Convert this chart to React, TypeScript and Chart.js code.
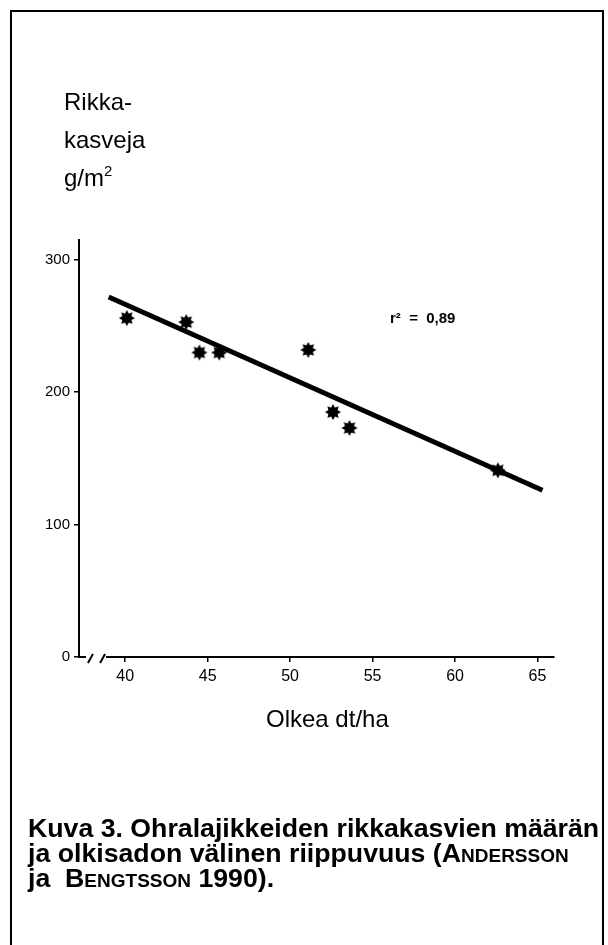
import React, { useEffect, useRef } from "react";
import { Chart, registerables } from "chart.js";

Chart.register(...registerables);

// ---- data ----
const strawYield = [40.1, 43.7, 44.5, 45.7, 51.1, 52.6, 53.6, 62.6]; // Olkea dt/ha
const weedMass = [256, 253, 230, 230, 232, 185, 173, 141]; // Rikkakasveja g/m2
const fitX = [39.0, 65.3];
const fitY = [272, 126];
const xTicks = [40, 45, 50, 55, 60, 65];
const yTicks = [0, 100, 200, 300];
const xRange = [37.2, 66];
const yRange = [0, 315];
const xBreak = [37.62, 38.84];
const yTitleLines = ["Rikka-", "kasveja", "g/m"];
const xTitle = "Olkea dt/ha";
const rSquaredText = "r\u00B2  =  0,89";

const FONT = "'Liberation Sans', Arial, Helvetica, sans-serif";

function makeStar(r: number): HTMLCanvasElement {
  const size = Math.ceil(r * 2 + 2);
  const c = document.createElement("canvas");
  c.width = size;
  c.height = size;
  const ctx = c.getContext("2d")!;
  ctx.translate(size / 2, size / 2);
  ctx.beginPath();
  for (let i = 0; i < 16; i++) {
    const a = (i * Math.PI) / 8 - Math.PI / 2;
    const rr = i % 2 === 0 ? r : r * 0.62;
    ctx.lineTo(rr * Math.cos(a), rr * Math.sin(a));
  }
  ctx.closePath();
  ctx.fillStyle = "#000";
  ctx.fill();
  return c;
}

const axisBreakPlugin = {
  id: "axisBreak",
  afterDraw(chart: any) {
    const { ctx, chartArea } = chart;
    const x = chart.scales.x;
    const y0 = chartArea.bottom;
    const a = x.getPixelForValue(xBreak[0]);
    const b = x.getPixelForValue(xBreak[1]);
    ctx.save();
    ctx.fillStyle = "#fff";
    ctx.fillRect(a, y0 - 3, b - a, 6);
    ctx.strokeStyle = "#000";
    ctx.lineWidth = 2;
    for (const px of [a + 4.5, b - 3.5]) {
      ctx.beginPath();
      ctx.moveTo(px - 2.5, y0 + 6);
      ctx.lineTo(px + 2.5, y0 - 3);
      ctx.stroke();
    }
    ctx.restore();
  },
};

export default function App() {
  const ref = useRef<HTMLCanvasElement | null>(null);

  useEffect(() => {
    if (!ref.current) return;
    const star = makeStar(8);
    const chart = new Chart(ref.current, {
      type: "scatter",
      data: {
        datasets: [
          {
            data: fitX.map((v, i) => ({ x: v, y: fitY[i] })),
            showLine: true,
            borderColor: "#000",
            borderWidth: 5,
            pointRadius: 0,
            fill: false,
          },
          {
            data: strawYield.map((v, i) => ({ x: v, y: weedMass[i] })),
            pointStyle: star as any,
            pointRadius: 8,
            backgroundColor: "#000",
            borderColor: "#000",
          },
        ],
      },
      options: {
        responsive: false,
        animation: false,
        events: [],
        layout: { padding: { left: 0, top: 240, right: 54, bottom: 248 } },
        plugins: { legend: { display: false }, tooltip: { enabled: false }, title: { display: false } },
        scales: {
          x: {
            type: "linear",
            min: xRange[0],
            max: xRange[1],
            afterBuildTicks: (s: any) => {
              s.ticks = xTicks.map((v) => ({ value: v }));
            },
            afterFit: (s: any) => {
              s.height = 40;
            },
            border: { display: true, color: "#000", width: 2 },
            grid: { display: true, drawOnChartArea: false, drawTicks: true, tickLength: 5, color: "#000", lineWidth: 1.5 },
            ticks: { color: "#000", font: { family: FONT, size: 16 }, padding: 5, autoSkip: false, maxRotation: 0 },
          },
          y: {
            type: "linear",
            min: yRange[0],
            max: yRange[1],
            afterBuildTicks: (s: any) => {
              s.ticks = yTicks.map((v) => ({ value: v }));
            },
            afterFit: (s: any) => {
              s.width = 79;
            },
            border: { display: true, color: "#000", width: 2 },
            grid: { display: true, drawOnChartArea: false, drawTicks: true, tickLength: 5, color: "#000", lineWidth: 1.5 },
            ticks: { color: "#000", font: { family: FONT, size: 15 }, padding: 4, autoSkip: false },
          },
        },
      },
      plugins: [axisBreakPlugin],
    });
    return () => chart.destroy();
  }, []);

  const abs = (o: React.CSSProperties): React.CSSProperties => ({ position: "absolute", margin: 0, ...o });

  return (
    <div
      style={{
        position: "absolute",
        left: 0,
        top: 0,
        width: 608,
        height: 945,
        background: "#fff",
        overflow: "hidden",
        fontFamily: FONT,
        color: "#000",
      }}
    >
      <div
        style={abs({
          left: 10,
          top: 10,
          width: 590,
          height: 960,
          borderLeft: "2px solid #000",
          borderTop: "2px solid #000",
          borderRight: "2px solid #000",
        })}
      />
      <canvas ref={ref} width={608} height={945} style={abs({ left: 0, top: 0, width: 608, height: 945 })} />
      {yTitleLines.map((t, i) => (
        <div key={i} style={abs({ left: 64, top: 89.5 + i * 38, fontSize: 24, lineHeight: "24px", whiteSpace: "pre" })}>
          {t}
          {i === 2 ? <span style={{ fontSize: 15, position: "relative", top: -10 }}>2</span> : null}
        </div>
      ))}
      <div style={abs({ left: 390, top: 310, fontSize: 15, fontWeight: "bold", lineHeight: "15px", whiteSpace: "pre" })}>
        {rSquaredText}
      </div>
      <div style={abs({ left: 266, top: 707, fontSize: 24, lineHeight: "24px", whiteSpace: "pre" })}>{xTitle}</div>
      <div style={abs({ left: 28, top: 816, fontSize: 26.7, fontWeight: "bold", lineHeight: "25px", whiteSpace: "pre" })}>
        <div>Kuva 3. Ohralajikkeiden rikkakasvien määrän</div>
        <div>
          ja olkisadon välinen riippuvuus (<span style={{ fontVariant: "small-caps" }}>Andersson</span>
        </div>
        <div>
          ja {"\u00A0"}<span style={{ fontVariant: "small-caps" }}>Bengtsson</span> 1990).
        </div>
      </div>
    </div>
  );
}
